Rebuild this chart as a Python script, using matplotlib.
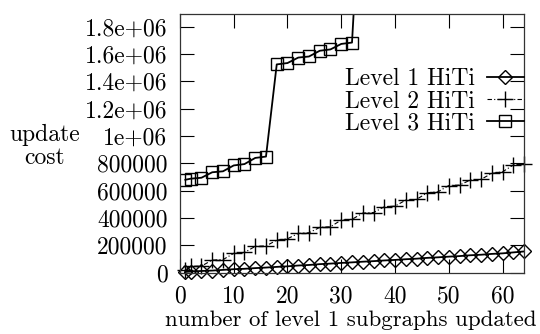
import matplotlib
matplotlib.use("Agg")
import matplotlib.pyplot as plt

plt.rcParams['font.family'] = ['cmr10', 'DejaVu Serif']
plt.rcParams['axes.formatter.use_mathtext'] = True

# subgraphs updated
x_all = [1, 2, 4, 6, 8, 10, 12, 14, 16, 18, 20, 22, 24, 26, 28, 30, 32,
         34, 36, 38, 40, 42, 44, 46, 48, 50, 52, 54, 56, 58, 60, 62, 64]

# Level 1 HiTi
level1 = [5e3, 8e3, 12e3, 15e3, 20e3, 25e3, 28e3, 33e3, 37e3, 42e3, 46e3,
          52e3, 56e3, 62e3, 66e3, 71e3, 75e3, 80e3, 84e3, 89e3, 93e3, 98e3,
          102e3, 108e3, 112e3, 117e3, 121e3, 127e3, 131e3, 137e3, 141e3,
          148e3, 155e3]

# Level 2 HiTi
level2 = [20e3, 45e3, 48e3, 92e3, 95e3, 141e3, 148e3, 192e3, 195e3, 238e3,
          248e3, 287e3, 292e3, 331e3, 336e3, 385e3, 390e3, 436e3, 440e3,
          482e3, 487e3, 531e3, 536e3, 585e3, 592e3, 638e3, 641e3, 678e3,
          683e3, 727e3, 738e3, 788e3, 792e3]

# Level 3 HiTi (goes off the top after 32)
x3 = [1, 2, 4, 6, 8, 10, 12, 14, 16, 18, 20, 22, 24, 26, 28, 30, 32, 34]
level3 = [680e3, 688e3, 695e3, 735e3, 742e3, 785e3, 795e3, 840e3, 850e3,
          1.525e6, 1.535e6, 1.575e6, 1.583e6, 1.625e6, 1.635e6, 1.675e6,
          1.685e6, 3.1e6]

yticks = [0, 200000, 400000, 600000, 800000, 1000000, 1200000, 1400000,
          1600000, 1800000]
ytick_labels = ["0", "200000", "400000", "600000", "800000", "1e+06",
                "1.2e+06", "1.4e+06", "1.6e+06", "1.8e+06"]
xticks = [0, 10, 20, 30, 40, 50, 60]

fs = 17

fig = plt.figure(figsize=(5.4, 3.34), dpi=100)
ax = fig.add_axes([0.3333, 0.1838, 0.6371, 0.7742])

ax.plot(x_all, level1, color='black', lw=1.3, marker='D', ms=7,
        mfc='none', mec='black', mew=1, clip_on=False, label='Level 1 HiTi')
ax.plot(x_all, level2, color='black', lw=0.8, ls=(0, (4, 2, 1, 2)), marker='+',
        ms=12, mew=1, clip_on=False, label='Level 2 HiTi')
ax.plot(x3, level3, color='black', lw=1.3, marker='s', ms=8.5,
        mfc='none', mec='black', mew=1, label='Level 3 HiTi')

ax.set_xlim(0, 64)
ax.set_ylim(0, 1.894e6)
ax.set_xticks(xticks)
ax.set_xticklabels([str(t) for t in xticks])
ax.set_yticks(yticks)
ax.set_yticklabels(ytick_labels)
ax.tick_params(direction='in', length=10, width=0.8, labelsize=fs,
               top=True, right=True)
ax.tick_params(axis='y', pad=9)
ax.tick_params(axis='x', pad=9)
for s in ax.spines.values():
    s.set_linewidth(0.9)
    s.set_color('#333333')

ax.set_xlabel("number of level 1 subgraphs updated", fontsize=16.5,
              labelpad=0)
ax.xaxis.set_label_coords(0.495, -0.148)
fig.text(0.082, 0.563, "update\ncost", fontsize=fs, ha='center', va='center',
         linespacing=1.05)

ax.legend(loc='upper right', bbox_to_anchor=(1.0, 0.79), frameon=False,
          markerfirst=False, fontsize=fs, handlelength=1.57,
          handletextpad=0.5, labelspacing=0.0, borderaxespad=0, borderpad=0)

fig.savefig("out.png", dpi=100)
